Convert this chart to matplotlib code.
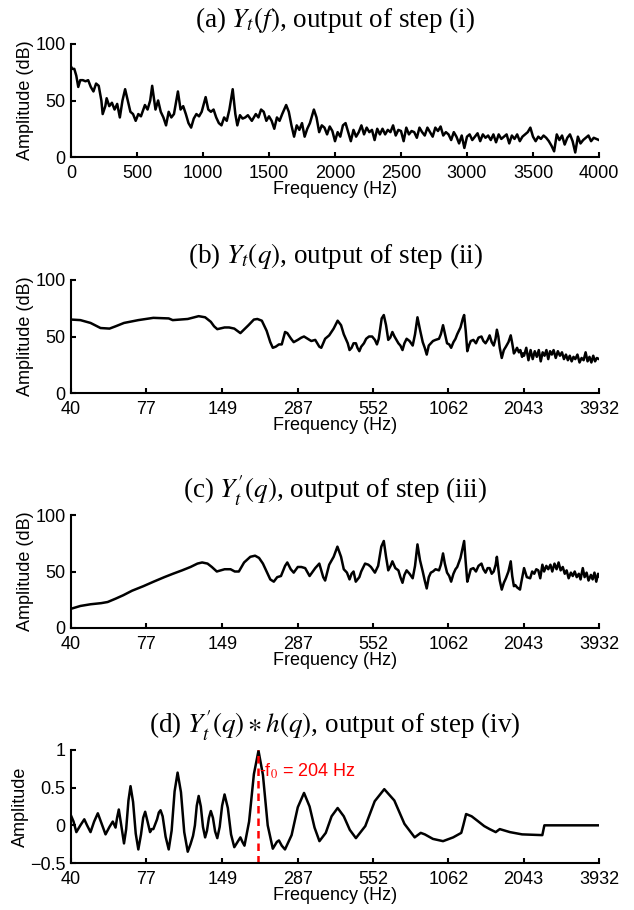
import matplotlib
matplotlib.use("Agg")
import matplotlib.pyplot as plt

# ---- panel (a): linear spectrum, Hz / dB ----
freq_a = [0, 10, 25, 40, 55, 70, 90, 110, 130, 150, 170, 190, 210, 230, 240, 260, 270,
          290, 310, 330, 350, 370, 390, 410, 430, 450, 470, 490, 510, 530, 560, 580, 600,
          615, 640, 660, 680, 700, 720, 740, 760, 780, 810, 830, 850, 870, 890, 910, 930,
          950, 970, 990, 1020, 1040, 1060, 1080, 1100, 1120, 1140, 1160, 1180, 1200,
          1225, 1245, 1260, 1280, 1300, 1320, 1340, 1370, 1400, 1420, 1440, 1460, 1480,
          1500, 1520, 1540, 1560, 1580, 1600, 1630, 1650, 1670, 1690, 1710, 1730, 1750,
          1770, 1790, 1810, 1840, 1860, 1880, 1900, 1920, 1940, 1960, 1980, 2000, 2020,
          2040, 2060, 2080, 2100, 2120, 2140, 2160, 2180, 2200, 2220, 2240, 2260, 2280,
          2300, 2320, 2340, 2360, 2380, 2400, 2420, 2440, 2460, 2480, 2500, 2520, 2540,
          2560, 2580, 2600, 2620, 2640, 2660, 2680, 2700, 2720, 2740, 2760, 2780, 2800,
          2820, 2840, 2860, 2880, 2900, 2920, 2940, 2960, 2980, 3000, 3020, 3040, 3060,
          3080, 3100, 3120, 3140, 3160, 3180, 3200, 3220, 3240, 3260, 3280, 3300, 3320,
          3340, 3360, 3380, 3400, 3420, 3440, 3460, 3480, 3500, 3520, 3540, 3560, 3580,
          3600, 3620, 3640, 3660, 3680, 3700, 3720, 3740, 3760, 3780, 3800, 3820, 3840,
          3860, 3880, 3900, 3920, 3940, 3960, 3980, 4000]
amp_a = [80, 78, 78, 72, 62, 68, 68, 67, 68, 62, 58, 65, 63, 50, 38, 45, 52,
         45, 48, 42, 47, 35, 50, 60, 50, 40, 38, 32, 38, 36, 46, 42, 50,
         63, 42, 50, 40, 35, 28, 40, 35, 38, 58, 42, 45, 38, 30, 26, 34,
         38, 36, 40, 53, 42, 40, 42, 35, 30, 28, 35, 32, 42,
         60, 38, 28, 37, 34, 35, 37, 32, 38, 35, 42, 40, 32,
         36, 32, 25, 35, 32, 38, 46, 40, 28, 18, 28, 24, 30,
         18, 25, 30, 42, 35, 22, 28, 26, 20, 27, 23, 14, 22,
         18, 28, 30, 22, 14, 24, 18, 22, 28, 20, 26, 22, 24,
         15, 25, 20, 25, 20, 24, 22, 28, 19, 24, 23, 14, 26,
         20, 23, 22, 17, 26, 22, 19, 26, 22, 18, 26, 23, 27,
         19, 22, 20, 15, 22, 18, 12, 19, 8, 18, 20, 15, 18,
         21, 14, 20, 17, 19, 15, 20, 13, 20, 16, 18, 20, 12,
         19, 16, 20, 14, 18, 20, 22, 26, 18, 14, 18, 16, 19,
         17, 14, 10, 5, 20, 15, 19, 11, 17, 20, 14, 4, 18,
         12, 15, 17, 19, 14, 17, 16, 15]

# ---- panel (b): log-frequency spectrum ----
freq_b = [40, 43.4, 47.4, 51.7, 55.9, 58.9, 63.4, 71.8, 81.8, 93.5, 96.8, 103, 110.3,
          121.3, 128.3, 134.8, 138.7, 142.6, 151.9, 158, 165.3, 174.3, 187, 196, 202,
          210, 219, 226, 231, 237, 243.6, 249.7, 257, 262, 270.7, 277, 287, 296, 303,
          313, 322.8, 334, 346, 352, 364, 377, 392, 405.8, 418, 428, 435.5, 443, 450,
          458, 466, 475.6, 482, 490, 498, 510, 520, 533, 547.6, 561, 571, 580, 595, 606,
          618, 630, 641, 653, 665, 688, 700, 713, 725, 739, 758, 779, 795, 812, 830, 850,
          865, 880, 896, 912, 929, 950, 979, 995, 1014, 1030, 1050, 1070, 1088, 1110,
          1130, 1147, 1180, 1205, 1218, 1235, 1252, 1270, 1290, 1320, 1350, 1380, 1416,
          1440, 1467, 1494, 1520, 1548, 1575, 1600, 1619, 1640, 1660, 1689, 1720, 1751,
          1790, 1826, 1850, 1877, 1900, 1929, 1960, 1985, 2015, 2030,
          2050, 2090, 2130, 2170, 2210, 2250, 2290, 2330, 2370, 2410, 2450, 2490, 2530,
          2570, 2610, 2650, 2700, 2750, 2800, 2850, 2900, 2950, 3000, 3050, 3100, 3150,
          3200, 3260, 3320, 3380, 3440, 3500, 3560, 3620, 3680, 3740, 3800, 3860, 3932]
amp_b = [65, 64.5, 62, 57.5, 57, 59, 62, 64.5, 66.5, 66, 64.5, 65, 65.5,
         68, 67, 63, 59, 56.5, 58, 58, 57, 53, 60, 65, 65.5,
         64, 55, 45, 40, 41, 43, 43, 54, 53, 48, 45, 47, 49, 50,
         48, 46, 47, 41, 40, 48, 51, 57, 64, 60, 52, 48, 44, 38,
         40, 44, 44, 40, 37, 41, 44, 48, 50, 50, 47, 43, 48, 66, 69,
         60, 47, 49, 54, 50, 44, 42, 38, 44, 48, 46, 42, 52, 67, 56, 45,
         40, 34, 42, 44, 46, 47, 48, 52, 60, 53, 44, 43, 40, 45,
         48, 52, 58, 66, 69, 55, 37, 42, 46, 47, 44, 49, 50,
         46, 44, 47, 51, 45, 42, 48, 56, 50, 40, 31, 38, 41,
         45, 51, 44, 35, 37, 40, 36, 38, 32, 35,
         33, 40, 29, 38, 30, 37, 32, 38, 28, 36, 33, 38, 30,
         37, 34, 38, 31, 37, 33, 36, 30, 34, 29, 33, 28, 32,
         30, 34, 27, 31, 29, 36, 28, 32, 27, 33, 28, 31, 30]

# ---- panel (c): tilted log-frequency spectrum ----
freq_c = [40, 43.4, 47.4, 52, 55, 59, 63, 68, 75, 82, 90, 97, 105, 113, 120, 125, 131,
          136, 142, 147, 152, 160, 166, 172, 180, 190, 198, 205, 212, 219, 226, 233, 240,
          248, 257, 262, 270, 277, 287, 296, 306, 318, 334, 346, 358, 364, 377, 392, 405,
          418, 428, 440, 450, 458, 466, 475, 490, 498, 515, 530, 542, 561, 577, 593, 606,
          618, 630, 643, 653, 670, 688, 700, 713, 725, 739, 758, 779, 795, 812, 830, 850,
          865, 880, 896, 912, 929, 950, 979, 995, 1014, 1030, 1050, 1070, 1088, 1110,
          1130, 1147, 1180, 1205, 1218, 1235, 1252, 1270, 1290, 1320, 1350, 1380, 1416,
          1440, 1467, 1494, 1520, 1548, 1575, 1602, 1619, 1640, 1660, 1689, 1720, 1751,
          1790, 1826, 1850, 1877, 1900, 1929, 1979, 2000, 2050, 2100, 2162, 2200, 2240,
          2280, 2320, 2360, 2404, 2440, 2488, 2530, 2578, 2620, 2671, 2720, 2768, 2817,
          2870, 2920, 2968, 3020, 3080, 3130, 3184, 3240, 3300, 3350, 3415, 3470, 3530,
          3590, 3665, 3720, 3780, 3840, 3900, 3932]
amp_c = [17, 19.5, 21, 22, 23, 26, 29, 33, 37, 41, 45, 48, 51, 54, 57, 58, 57,
         54, 50, 51, 52, 52, 50, 50, 58, 63, 64, 62, 57, 50, 43, 41, 45,
         46, 55, 58, 52, 49, 54, 54, 53, 46, 53, 57, 45, 42, 56, 63, 72,
         63, 52, 49, 43, 48, 50, 41, 45, 50, 57, 56, 54, 49, 55, 72, 77,
         63, 51, 55, 59, 53, 51, 45, 40, 47, 51, 48, 44, 55, 74, 60, 50,
         42, 35, 45, 49, 50, 52, 51, 56, 66, 57, 49, 46, 41, 48,
         52, 54, 62, 72, 77, 58, 41, 46, 52, 53, 50, 55, 57,
         52, 49, 53, 53, 48, 50, 56, 63, 52, 42, 34, 40, 44,
         50, 59, 46, 37, 38, 36, 34, 40, 53, 45, 44, 50, 48,
         52, 51, 44, 56, 50, 55, 52, 56, 50, 57, 52, 58, 51,
         54, 48, 51, 44, 49, 46, 50, 45, 48, 43, 53, 45, 49,
         42, 47, 43, 49, 41, 48, 46]

# ---- panel (d): filtered, normalised ----
freq_d = [40, 40.9, 41.9, 43.4, 44.9, 46.0, 47.4, 48.9, 50.5, 52.1, 54.0, 55.9, 57.5,
          58.9, 59.7, 60.6, 61.9, 63.4, 64.6, 65.9, 67.1, 68.6, 70.2, 71.8, 73.5, 74.9,
          76.2, 77.8, 79.5, 80.6, 81.8, 84.5, 85.8, 87.1, 88.7, 91.0, 93.5, 95.9, 98.4,
          101.0, 104.0, 107.0, 110.3, 113.0, 115.5, 117.4, 119.3, 121.3, 123.6, 125.9,
          128.3, 130.4, 132.6, 134.8, 137.3, 139.9, 142.6, 145.6, 148.7, 151.9, 156.3,
          160.7, 165.3, 170.1, 174.3, 177.4, 180.6, 188, 196, 204, 212, 221, 231, 239.3,
          243.6, 249.7, 256.8, 272, 287, 303, 318, 332, 346.4, 366, 385, 405.8, 428, 451,
          475.6, 516, 560, 608.6, 664, 725, 792.5, 835.5, 865.4, 928.6, 1014, 1107, 1188,
          1209, 1239, 1300, 1368, 1450, 1520, 1603, 1660, 1813, 2015, 2403, 2446, 2968,
          3932]
amp_d = [0.13, 0.05, -0.09, 0.0, 0.08, 0.0, -0.09, 0.05, 0.16, 0.03, -0.12, -0.02, 0.05,
         -0.03, 0.1, 0.21, 0.0, -0.24, -0.05, 0.33, 0.52, 0.31, -0.11, -0.32, -0.12, 0.1,
         0.18, 0.05, -0.09, -0.05, -0.05, 0.08, 0.17, 0.20, 0.12, -0.15, -0.32, -0.07, 0.45,
         0.70, 0.44, -0.09, -0.35, -0.25, -0.14, 0.0, 0.26, 0.39, 0.25, -0.02,
         -0.16, -0.07, 0.1, 0.19, 0.1, -0.08, -0.17, -0.02, 0.26, 0.41, 0.23,
         -0.12, -0.29, -0.22, -0.16, -0.22, -0.27, 0.05, 0.68, 0.99, 0.67, 0.0, -0.31, -0.22,
         -0.2, -0.27, -0.32, -0.13, 0.24, 0.43, 0.25, -0.03, -0.21, -0.1, 0.12, 0.23, 0.12, -0.06,
         -0.17, -0.01, 0.32, 0.48, 0.33, 0.02, -0.16, -0.1, -0.12, -0.18, -0.21, -0.16, -0.1,
         0.0, 0.15, 0.12, 0.06, -0.01, -0.05, -0.09, -0.05, -0.09, -0.12, -0.13, 0.0, 0.0,
         0.0]

F0 = 204
LOG_TICKS = [40, 77, 149, 287, 552, 1062, 2043, 3932]
LIN_TICKS = [0, 500, 1000, 1500, 2000, 2500, 3000, 3500, 4000]
TITLES = [r"(a) $Y_t(f)$, output of step (i)",
          r"(b) $Y_t(q)$, output of step (ii)",
          r"(c) $Y^{\prime}_t(q)$, output of step (iii)",
          r"(d) $Y^{\prime}_t(q)\ast h(q)$, output of step (iv)"]

plt.rcParams["font.family"] = ["Liberation Sans", "DejaVu Sans"]
plt.rcParams["mathtext.fontset"] = "stix"
plt.rcParams["font.size"] = 13

fig = plt.figure(figsize=(6.34, 9.10), dpi=100)
L, W, H = 71 / 634, 528 / 634, 113 / 910
bottoms = [1 - 157 / 910, 1 - 393 / 910, 1 - 628 / 910, 1 - 863 / 910]
axes = [fig.add_axes([L, b, W, H]) for b in bottoms]


def style(ax, title):
    for s in ("top", "right"):
        ax.spines[s].set_visible(False)
    for s in ("left", "bottom"):
        ax.spines[s].set_linewidth(1.5)
    ax.tick_params(direction="in", length=3.5, width=1.5, labelsize=13)
    ax.tick_params(axis="x", pad=6)
    ax.tick_params(axis="y", pad=4)
    ax.tick_params(which="minor", length=0)
    ax.set_xlabel("Frequency (Hz)", fontsize=13, labelpad=-1)
    ax.set_title(title, family="Liberation Serif", fontsize=19.5, pad=12)


ax = axes[0]
ax.plot(freq_a, amp_a, color="black", lw=1.8)
ax.set_xlim(0, 4000)
ax.set_ylim(0, 100)
ax.set_xticks(LIN_TICKS)
ax.set_yticks([0, 50, 100])
ax.set_ylabel("Amplitude (dB)", fontsize=13, labelpad=1)
style(ax, TITLES[0])

for ax, fq, am, t in [(axes[1], freq_b, amp_b, TITLES[1]), (axes[2], freq_c, amp_c, TITLES[2])]:
    ax.plot(fq, am, color="black", lw=1.8)
    ax.set_xscale("log")
    ax.set_xlim(40, 3932)
    ax.set_ylim(0, 100)
    ax.set_xticks(LOG_TICKS, [str(v) for v in LOG_TICKS])
    ax.set_yticks([0, 50, 100])
    ax.set_ylabel("Amplitude (dB)", fontsize=13, labelpad=1)
    style(ax, t)

ax = axes[3]
ax.plot(freq_d, amp_d, color="black", lw=1.8)
ax.plot([F0, F0], [-0.5, 1.0], color="red", lw=1.8, ls=(0, (3, 2)))
ax.text(F0 * 1.005, 0.72, "-f$_0$ = 204 Hz", color="red", fontsize=13,
        ha="left", va="center")
ax.set_xscale("log")
ax.set_xlim(40, 3932)
ax.set_ylim(-0.5, 1.0)
ax.set_xticks(LOG_TICKS, [str(v) for v in LOG_TICKS])
ax.set_yticks([-0.5, 0, 0.5, 1], ["\u22120.5", "0", "0.5", "1"])
ax.set_ylabel("Amplitude", fontsize=13, labelpad=1)
style(ax, TITLES[3])

fig.savefig("out.png", dpi=100)
